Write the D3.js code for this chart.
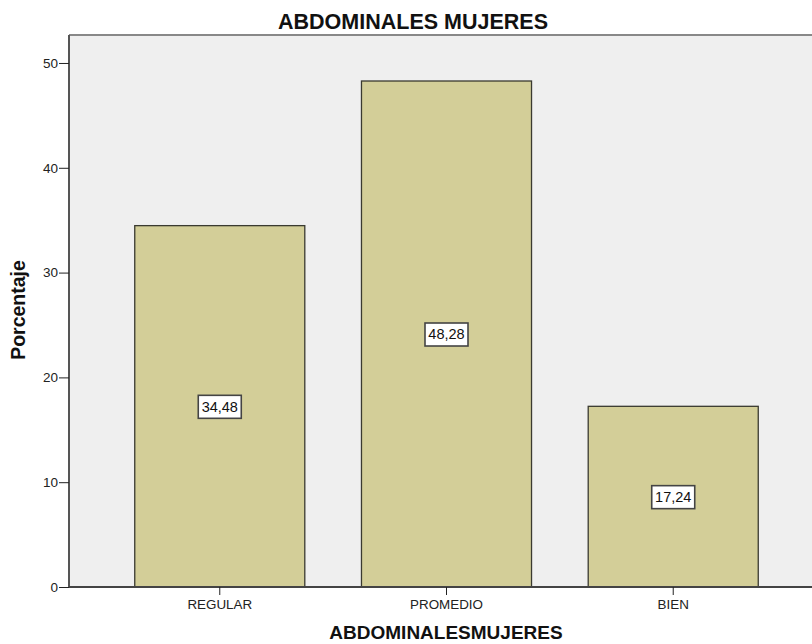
<!DOCTYPE html>
<html>
<head>
<meta charset="utf-8">
<script src="https://cdn.jsdelivr.net/npm/d3@7"></script>
<style>
  body { margin: 0; background: #fff; }
  svg { display: block; font-family: "Liberation Sans", Arial, sans-serif; }
</style>
</head>
<body>
<svg id="chart" width="812" height="644"></svg>
<script>
// Data: percentage of women per abdominal-test category
const categories = ["REGULAR", "PROMEDIO", "BIEN"];
const percentages = [34.48, 48.28, 17.24];
const valueLabels = ["34,48", "48,28", "17,24"];
const yTicks = [0, 10, 20, 30, 40, 50];

const svg = d3.select("#chart");
const plotLeft = 69, plotTop = 35, plotBottom = 587, plotRight = 824;

const x = d3.scaleBand().domain(categories).range([plotLeft, plotRight])
  .paddingInner(0.25).paddingOuter(0.29);
const y = d3.scaleLinear().domain([0, 52.67]).range([plotBottom, plotTop]);

// Plot background
svg.append("rect").attr("x", plotLeft).attr("y", plotTop)
  .attr("width", plotRight - plotLeft).attr("height", plotBottom - plotTop)
  .attr("fill", "#efefef");
svg.append("line").attr("x1", plotLeft).attr("x2", 812)
  .attr("y1", plotTop).attr("y2", plotTop)
  .attr("stroke", "#888").attr("stroke-width", 2);

// Bars
svg.append("g").selectAll("rect").data(percentages).join("rect")
  .attr("x", (d, i) => x(categories[i]))
  .attr("y", d => y(d))
  .attr("width", x.bandwidth())
  .attr("height", d => plotBottom - y(d))
  .attr("fill", "#d3ce98")
  .attr("stroke", "#3a3a30")
  .attr("stroke-width", 1.3);

// Y axis
const yAxis = svg.append("g").attr("transform", `translate(${plotLeft},0)`)
  .call(d3.axisLeft(y).tickValues(yTicks).tickSize(10).tickPadding(1).tickFormat(d3.format("d")));
yAxis.select(".domain").attr("d", `M0,${plotTop}V${plotBottom}`).attr("stroke", "#555").attr("stroke-width", 2);
yAxis.selectAll(".tick line").attr("stroke", "#222");
yAxis.selectAll("text").attr("fill", "#222")
  .attr("font-family", "'Liberation Sans', Arial, sans-serif").attr("font-size", 13.5);

// X axis
const xAxis = svg.append("g").attr("transform", `translate(0,${plotBottom})`)
  .call(d3.axisBottom(x).tickSize(8).tickPadding(4));
xAxis.select(".domain").attr("d", `M${plotLeft},0H812`).attr("stroke", "#444").attr("stroke-width", 2);
xAxis.selectAll(".tick line").attr("stroke", "#222");
xAxis.selectAll("text").attr("font-size", 13.4).attr("fill", "#222")
  .attr("font-family", "'Liberation Sans', Arial, sans-serif");

// Value labels in boxes at bar mid-height
const lbl = svg.append("g").selectAll("g").data(percentages).join("g")
  .attr("transform", (d, i) => `translate(${x(categories[i]) + x.bandwidth() / 2},${y(d / 2)})`);
lbl.append("rect").attr("x", -21.5).attr("y", -11).attr("width", 43).attr("height", 23)
  .attr("fill", "#fff").attr("stroke", "#444").attr("stroke-width", 1.6);
lbl.append("text").attr("text-anchor", "middle").attr("dy", "0.36em")
  .attr("font-size", 14.5).attr("fill", "#111")
  .text((d, i) => valueLabels[i]);

// Titles
svg.append("text").attr("x", 413).attr("y", 29).attr("text-anchor", "middle")
  .attr("font-weight", "bold").attr("font-size", 21.5).attr("fill", "#111")
  .text("ABDOMINALES MUJERES");
svg.append("text").attr("x", 446).attr("y", 639).attr("text-anchor", "middle")
  .attr("font-weight", "bold").attr("font-size", 19).attr("fill", "#111")
  .text("ABDOMINALESMUJERES");
svg.append("text").attr("transform", "translate(25,310) rotate(-90)").attr("text-anchor", "middle")
  .attr("font-weight", "bold").attr("font-size", 19.5).attr("fill", "#111")
  .text("Porcentaje");
</script>
</body>
</html>
